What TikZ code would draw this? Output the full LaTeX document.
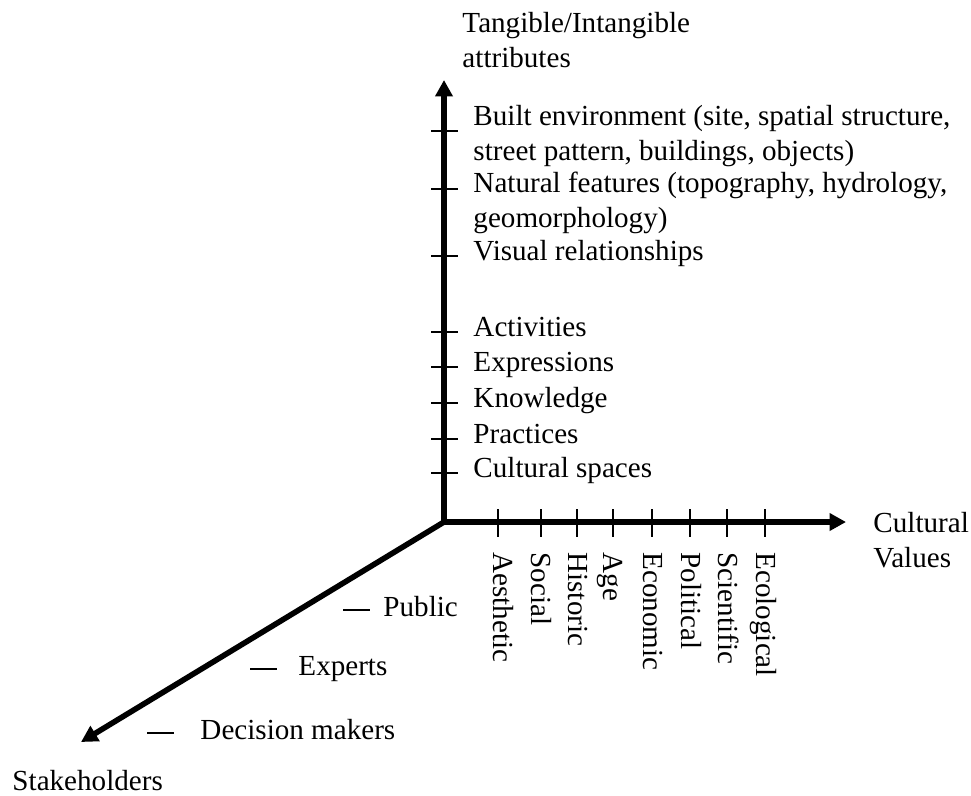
\documentclass[tikz,border=0pt]{standalone}
\usepackage{fontspec}
\setmainfont{Liberation Serif}
\usetikzlibrary{arrows.meta,positioning}
\tikzstyle{axis} = [line width=2.3pt, -{Triangle[length=6.8pt,width=7pt]}]
\tikzstyle{tick} = [line width=1.1pt]
\tikzstyle{lbl}  = [inner sep=0pt, anchor=base west, align=left, font=\fontsize{12}{14.4}\selectfont]
\tikzstyle{vlbl} = [lbl, rotate=-90]

\begin{document}
\begin{tikzpicture}[x=0.4123pt,y=-0.4123pt]
    \useasboundingbox (0,0) rectangle (971,795);

    % the three axes
    \coordinate (O) at (444,522);
    \coordinate (ytip) at (444,80);
    \coordinate (xtip) at (846,522);
    \coordinate (ztip) at (81,742);
    \draw[axis] (O) -- (ytip);
    \draw[axis] (O) -- (xtip);
    \draw[axis] (O) -- (ztip);

    % axis titles (base = last line)
    \node[lbl] (ytitle) at (462,67) {Tangible/Intangible\\attributes};
    \node[lbl] (xtitle) at (873,567) {Cultural\\Values};
    \node[lbl] (ztitle) at (12,790) {Stakeholders};

    % attributes
    \foreach \y/\b/\txt [count=\i] in {
        131/160/{Built environment (site, spatial structure,\\street pattern, buildings, objects)},
        189/227/{Natural features (topography, hydrology,\\geomorphology)},
        256/260/{Visual relationships},
        332/336/{Activities},
        367/371/{Expressions},
        403/407/{Knowledge},
        439/443/{Practices},
        473/477/{Cultural spaces}}
    {
        \draw[tick] (431,\y) -- (458,\y);
        \node[lbl] (attr\i) at (473,\b) {\txt};
    }

    % values
    \foreach \x/\b/\txt [count=\i] in {
        498/493/Aesthetic, 541/531/Social, 577/568/Historic, 613/603/Age,
        652/643/Economic, 690/681/Political, 727/718/Scientific, 765/756/Ecological}
    {
        \draw[tick] (\x,509) -- (\x,537);
        \node[vlbl] (val\i) at (\b,552) {\txt};
    }

    % stakeholders
    \foreach \x/\y/\t/\txt [count=\i] in {
        343/610/383/Public, 250/669/298/Experts, 147/733/200/{Decision makers}}
    {
        \draw[tick] (\x,\y) -- ++(27,0);
        \node[lbl] (stk\i) at (\t,\y+6) {\txt};
    }
\end{tikzpicture}
\end{document}
